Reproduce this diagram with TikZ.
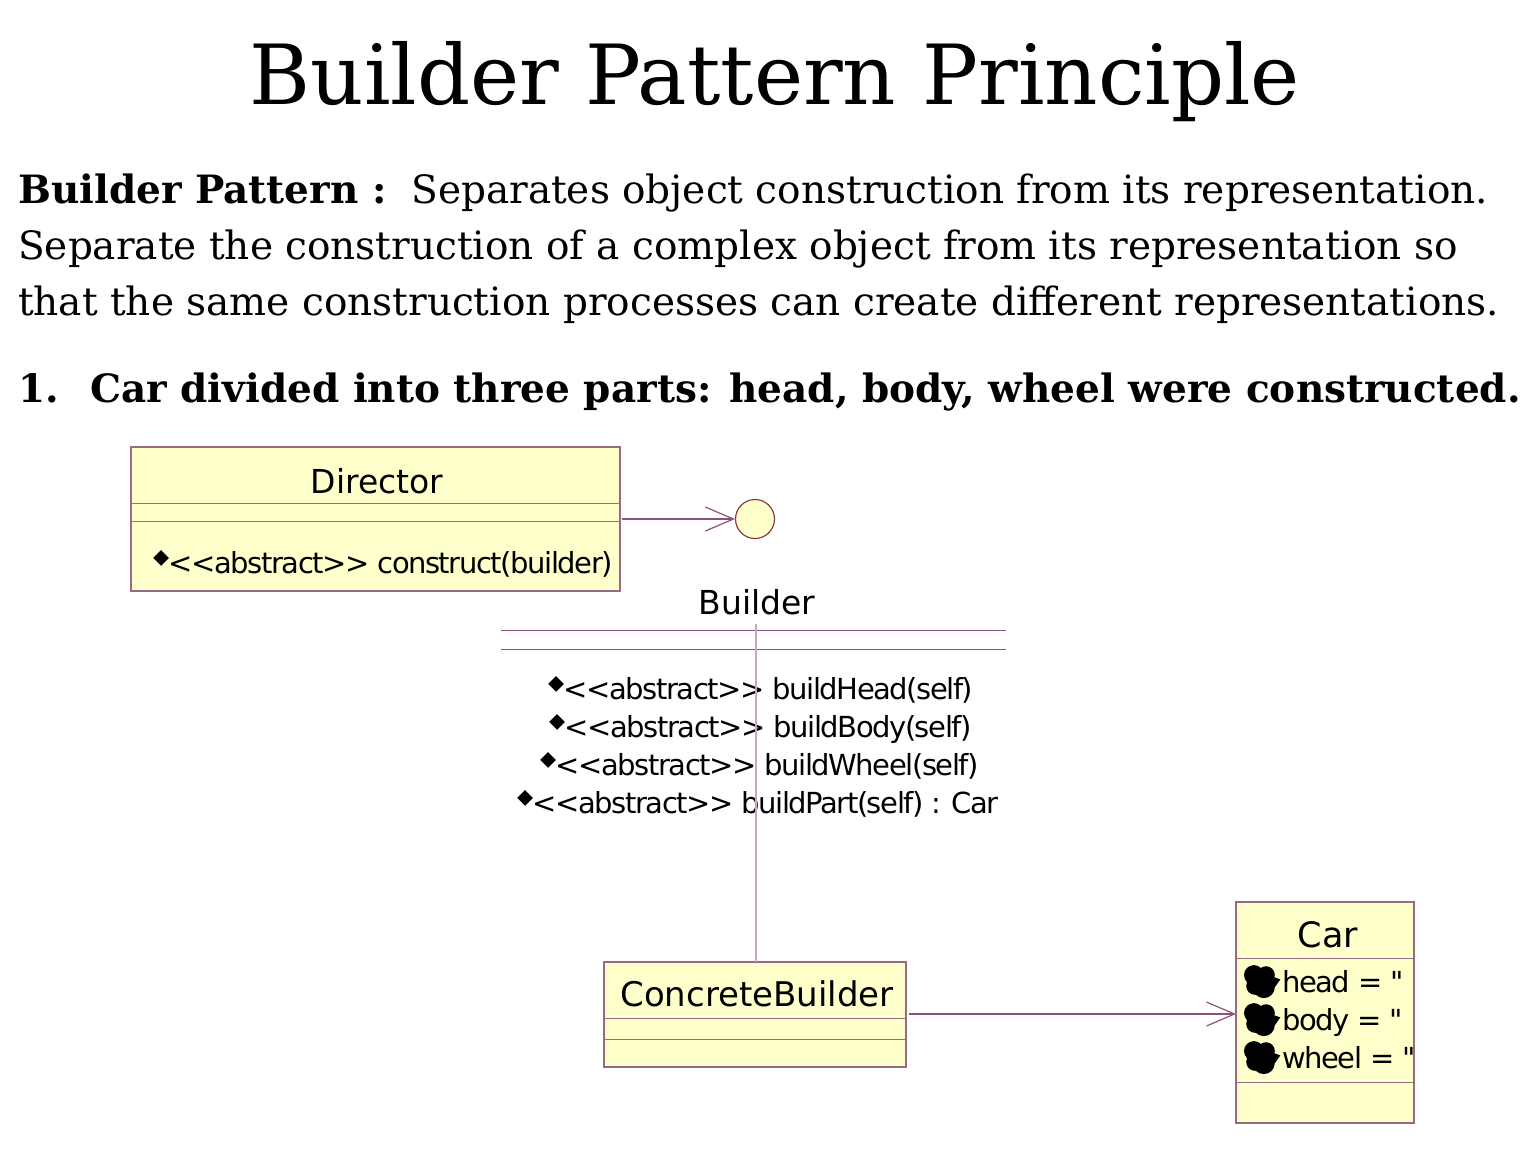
\documentclass[tikz,border=0pt]{standalone}
\usepackage{fontspec}
\setmainfont{DejaVu Serif}
\newfontfamily\umlfont{DejaVu Sans}
\newfontfamily\umltight{DejaVu Sans}[LetterSpace=-5]
\usetikzlibrary{arrows.meta}

\definecolor{umlfill}{HTML}{FFFFCC}
\definecolor{umledge}{HTML}{9A6A80}
\definecolor{umlline}{HTML}{8E4F7A}
\definecolor{umlfaint}{HTML}{C7A6C6}
\definecolor{umlring}{HTML}{8B3A4A}

\newcommand{\umldia}{\tikz[baseline={(0,-0.52em)}]\fill[black] (0,0.27em) -- (0.27em,0) -- (0,-0.27em) -- (-0.27em,0) -- cycle;}
\newcommand{\abs}{{<}{<}abstract{>}{>}}

\begin{document}
\begin{tikzpicture}[x=1pt,y=-1pt,
  classbox/.style={draw=umledge, fill=umlfill, line width=1.2pt},
  divider/.style={draw=umledge, line width=1pt},
  umlname/.style={font=\umlfont\fontsize{33}{36}\selectfont, inner sep=0pt},
  umltext/.style={font=\umltight\fontsize{29}{32}\selectfont, inner sep=0pt},
  bodytext/.style={anchor=base west, inner sep=0pt, font=\fontsize{39}{44}\selectfont},
  link/.style={draw=umlline, line width=1.2pt},
  openhead/.style={-{Straight Barb[length=28pt,width=24pt,line width=1.2pt]}}
]
\useasboundingbox (0,0) rectangle (1530,1148);

% heading and explanatory text
\node[anchor=base, inner sep=0pt, font=\fontsize{83}{90}\selectfont] (title) at (775,104) {Builder Pattern Principle};
\node[bodytext] (line1) at (18,203)
  {\textbf{Builder Pattern :}\ \ Separates object construction from its representation.};
\node[bodytext] (line2) at (18,259)
  {Separate the construction of a complex object from its representation so};
\node[bodytext] (line3) at (18,315)
  {that the same construction processes can create different representations.};
\node[bodytext, font=\bfseries\fontsize{39}{44}\selectfont] (num) at (18,402) {1.};
\node[bodytext, font=\bfseries\fontsize{39}{44}\selectfont] (point) at (90,402)
  {Car divided into three parts: head, body, wheel were constructed.};

% Director class
\path[classbox] (131,447) rectangle (620,591);
\draw[divider] (131,503) -- (620,503);
\draw[divider] (131,521) -- (620,521);
\node[umlname, anchor=base] (director) at (377,493) {Director};
\node[umltext, anchor=base west] (construct) at (153,573) {\umldia\abs{} construct(builder)};
\coordinate (dirout) at (622,519);

% Builder interface (lollipop)
\node[circle, draw=umlring, fill=umlfill, line width=1.2pt, minimum size=39pt, inner sep=0pt] (iface) at (755,519) {};
\draw[link, openhead] (dirout) -- (iface.west);

\node[umlname, anchor=base] (builder) at (757,614) {Builder};
\draw[divider, draw=umlline] (501,630) -- (1006,630);
\draw[divider, draw=umlline] (501,649) -- (1006,649);
\node[umltext, anchor=base west] (m1) at (548,699) {\umldia\abs{} buildHead(self)};
\node[umltext, anchor=base west] (m2) at (549,737) {\umldia\abs{} buildBody(self)};
\node[umltext, anchor=base west] (m3) at (540,775) {\umldia\abs{} buildWheel(self)};
\node[umltext, anchor=base west] (m4) at (517,813) {\umldia\abs{} buildPart(self) : Car};
\coordinate (btop) at (756,624);

% ConcreteBuilder class
\path[classbox] (604,962) rectangle (906,1067);
\draw[divider] (604,1018) -- (906,1018);
\draw[divider] (604,1039) -- (906,1039);
\node[umlname, anchor=base, font=\umlfont\fontsize{34}{36}\selectfont] (concrete) at (757,1006) {ConcreteBuilder};
\coordinate (cbtop) at (756,962);
\coordinate (cbout) at (909,1014);
\draw[draw=umlfaint, line width=1.4pt] (btop) -- (cbtop);

% Car class
\path[classbox] (1236,902) rectangle (1414,1123);
\draw[divider] (1236,958) -- (1414,958);
\draw[divider] (1236,1082) -- (1414,1082);
\node[umlname, anchor=base, font=\umlfont\fontsize{35}{36}\selectfont] (car) at (1328,947) {Car};
\foreach \yy/\nm/\lab in {992/a1/head, 1030/a2/body, 1068/a3/wheel}{
  % attribute marker: a solid irregular blob with a point to the right
  \begin{scope}[shift={(1244,\yy-28)}, scale=1.1]
    \fill[black] (9,10) circle (9) (20,10) circle (8) (10,20) circle (8) (18,21) circle (10)
      (22,10) -- (33,14) -- (26,24) -- cycle;
  \end{scope}
  \node[umltext, anchor=base west] (\nm) at (1282,\yy) {\lab\ = {"}};
}
\coordinate (carin) at (1236,1014);
\draw[link, openhead] (cbout) -- (carin);
\end{tikzpicture}
\end{document}
